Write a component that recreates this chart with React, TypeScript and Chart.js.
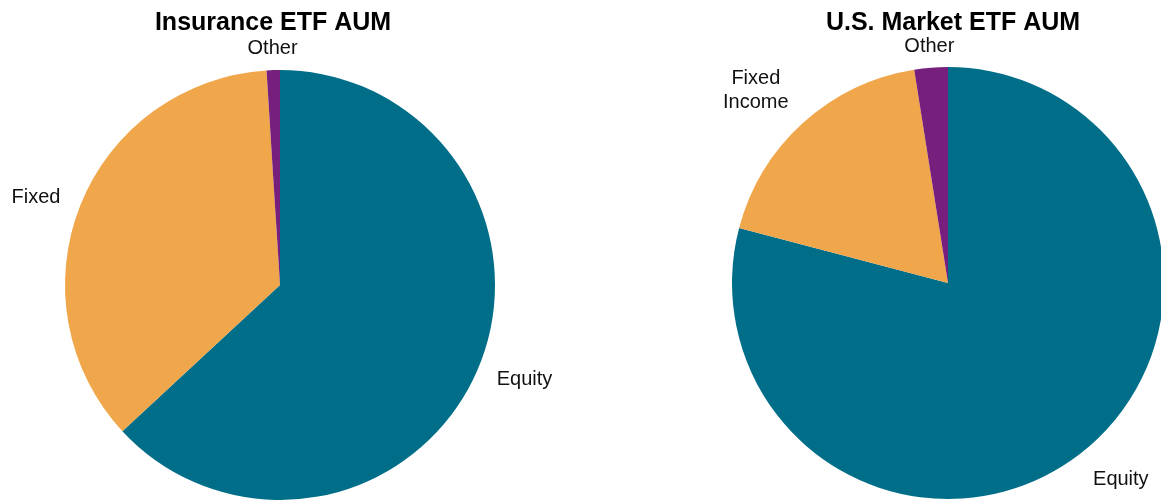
import React, { useEffect, useRef } from "react";
import { Chart, registerables } from "chart.js";

Chart.register(...registerables);

// ---- Data ----
const insuranceTitle = "Insurance ETF AUM";
const insuranceLabels = ["Equity", "Fixed", "Other"];
const insuranceValues = [63.1, 35.9, 1.0];

const marketTitle = "U.S. Market ETF AUM";
const marketLabels = ["Equity", "Fixed\nIncome", "Other"];
const marketValues = [79.1, 18.4, 2.5];

const sliceColors = ["#006E89", "#F0A74B", "#761F7D"];

const FONT = "'Liberation Sans', Arial, Helvetica, sans-serif";

const pieLabelsPlugin = {
  id: "pieLabels",
  afterDraw(chart: any, _args: any, opts: any) {
    const ctx = chart.ctx;
    const meta = chart.getDatasetMeta(0);
    const labels: string[] = chart.data.labels;
    ctx.save();
    ctx.fillStyle = "#111111";
    ctx.font = `20px ${FONT}`;
    const lh = 24;
    meta.data.forEach((arc: any, i: number) => {
      const { x, y, startAngle, endAngle, outerRadius } = arc.getProps(
        ["x", "y", "startAngle", "endAngle", "outerRadius"],
        true
      );
      const mid = (startAngle + endAngle) / 2;
      const r = outerRadius * 1.1;
      const c = Math.cos(mid);
      const s = Math.sin(mid);
      const px = x + c * r;
      const py = y + s * r;
      const lines = String(labels[i]).split("\n");
      const widths = lines.map((ln) => ctx.measureText(ln).width);
      const W = Math.max(...widths);
      const H = lines.length * lh;
      const align = c > 0.15 ? "left" : c < -0.15 ? "right" : "center";
      // block horizontal centre
      const cx = align === "left" ? px + W / 2 : align === "right" ? px - W / 2 : px;
      // vertical centre of block
      let cy = py;
      if (align !== "center" && Math.abs(s) > 0.5) cy = py + 0.5 * s * (H - 4);
      ctx.textAlign = "center";
      ctx.textBaseline = "middle";
      const y0 = cy - ((lines.length - 1) * lh) / 2;
      lines.forEach((ln, k) => ctx.fillText(ln, cx, y0 + k * lh));
    });
    // title
    ctx.font = `bold 25px ${FONT}`;
    ctx.textAlign = "center";
    ctx.textBaseline = "alphabetic";
    ctx.fillStyle = "#000000";
    ctx.fillText(opts.title, opts.titleX, 30);
    ctx.restore();
  },
};

function PieCanvas(props: {
  labels: string[];
  values: number[];
  title: string;
  titleX: number;
  left: number;
  width: number;
  padding: { left: number; right: number; top: number; bottom: number };
}) {
  const ref = useRef<HTMLCanvasElement>(null);
  useEffect(() => {
    if (!ref.current) return;
    const chart = new Chart(ref.current, {
      type: "pie",
      data: {
        labels: props.labels,
        datasets: [
          {
            data: props.values,
            backgroundColor: sliceColors,
            borderWidth: 0,
          },
        ],
      },
      options: {
        responsive: false,
        animation: false,
        rotation: 0,
        layout: { padding: props.padding },
        plugins: {
          legend: { display: false },
          tooltip: { enabled: false },
          title: { display: false },
          pieLabels: { title: props.title, titleX: props.titleX },
        } as any,
      },
      plugins: [pieLabelsPlugin],
    });
    return () => chart.destroy();
  }, []);
  return (
    <canvas
      ref={ref}
      width={props.width}
      height={500}
      style={{
        position: "absolute",
        left: props.left,
        top: 0,
        width: props.width,
        height: 500,
      }}
    />
  );
}

export default function App() {
  return (
    <div
      style={{
        position: "fixed",
        left: 0,
        top: 0,
        width: 1161,
        height: 500,
        overflow: "hidden",
        background: "#ffffff",
      }}
    >
      <PieCanvas
        labels={insuranceLabels}
        values={insuranceValues}
        title={insuranceTitle}
        titleX={273}
        left={0}
        width={580}
        padding={{ left: 65, right: 85, top: 70, bottom: 0 }}
      />
      <PieCanvas
        labels={marketLabels}
        values={marketValues}
        title={marketTitle}
        titleX={392}
        left={561}
        width={620}
        padding={{ left: 171, right: 17, top: 67, bottom: 1 }}
      />
    </div>
  );
}
